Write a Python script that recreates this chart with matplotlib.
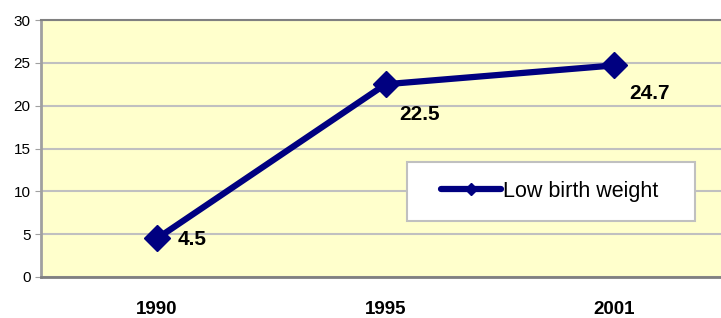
import numpy as np
import matplotlib.pyplot as plt
from matplotlib.patches import Rectangle

plt.rcParams['font.family'] = ['Liberation Sans', 'DejaVu Sans']

years = ['1990', '1995', '2001']
low_birth_weight = [4.5, 22.5, 24.7]

fig = plt.figure(figsize=(7.21, 3.18), dpi=100)
ax = fig.add_axes([41/721, 41/318, 680/721, 257/318])
ax.set_facecolor('#FFFFCC')

x = np.arange(len(years))
ax.plot(x, low_birth_weight, color='#000080', linewidth=4.5, marker='D',
        markersize=13, label='Low birth weight', solid_capstyle='round', zorder=3)

# data labels (Excel style, right/below the points)
offsets = [(15, -1), (10, -22), (11, -20)]
for xi, v, off in zip(x, low_birth_weight, offsets):
    ax.annotate(f'{v}', (xi, v), xytext=off, textcoords='offset points',
                fontsize=15, fontweight='bold', ha='left', va='center')

ax.set_xlim(-0.508, -0.508 + 680/228.5)
ax.set_ylim(0, 30)
ax.set_yticks(range(0, 31, 5))
ax.set_xticks(x)
ax.set_xticklabels(years, fontsize=13.5, fontweight='bold')
ax.tick_params(axis='x', length=0, pad=17)
ax.tick_params(axis='y', labelsize=11, length=4.5, color='#A0A0A0', pad=3)
ax.yaxis.grid(True, color='#C0C0C0', linewidth=1.5)
ax.set_axisbelow(True)

ax.spines['right'].set_visible(False)
ax.spines['left'].set_color('#A0A0A0')
ax.spines['left'].set_linewidth(2)
ax.spines['bottom'].set_color('#808080')
ax.spines['bottom'].set_linewidth(2)
ax.spines['top'].set_color('#808080')
ax.spines['top'].set_linewidth(1.5)

#------------------ legend box
ax.add_patch(Rectangle((366/680, 56/257), 288/680, 59/257, transform=ax.transAxes,
                       facecolor='white', edgecolor='#C0C0C0', linewidth=1.5, zorder=4))
leg = ax.legend(loc='center left', bbox_to_anchor=(400/680, 85.5/257), fontsize=15.5,
                frameon=False, borderpad=0, borderaxespad=0, handlelength=2.8,
                handletextpad=0.1, markerscale=0.5)
leg.set_zorder(5)

fig.savefig('out.png', dpi=100)
